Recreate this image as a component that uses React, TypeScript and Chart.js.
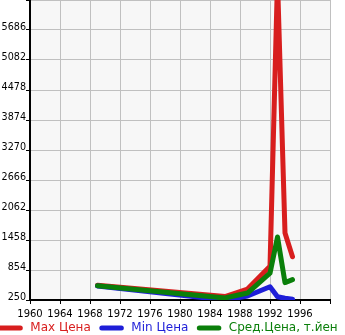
import React, { useEffect, useRef } from "react";
import { Chart, registerables } from "chart.js";

Chart.register(...registerables);

const years = [1969, 1986, 1989, 1992, 1993, 1994, 1995];
const maxPrice = [545, 320, 470, 930, 6700, 1600, 1120];
const minPrice = [530, 250, 330, 518, 316, 285, 264];
const avgPrice = [538, 290, 390, 790, 1518, 600, 660];

const seriesLabels = ["Max Цена", "Min Цена", "Сред.Цена, т.йен"];
const seriesColors = ["#d81e1e", "#1e1ed8", "#0a7f0a"];

const yMin = 250;
const yMax = 6290;
const yStep = 604;
const xMin = 1960;
const xMax = 2000;
const xStep = 4;

const FONT = '"DejaVu Sans", sans-serif';

const bgPlugin = {
  id: "plotBg",
  beforeDraw(chart: any) {
    const { ctx, chartArea } = chart;
    ctx.save();
    ctx.fillStyle = "#f7f7f7";
    ctx.fillRect(chartArea.left, chartArea.top, chartArea.right - chartArea.left, chartArea.bottom - chartArea.top);
    ctx.restore();
  },
};

const legendPlugin = {
  id: "bottomLegend",
  afterDraw(chart: any) {
    const { ctx } = chart;
    ctx.save();
    ctx.font = "12px " + FONT;
    ctx.textBaseline = "middle";
    ctx.textAlign = "left";
    const y = 328;
    let x = -1.7;
    seriesLabels.forEach((label, i) => {
      ctx.strokeStyle = seriesColors[i];
      ctx.lineWidth = 5;
      ctx.lineCap = "round";
      ctx.beginPath();
      ctx.moveTo(x + 2.5, y);
      ctx.lineTo(x + 22, y);
      ctx.stroke();
      ctx.fillStyle = seriesColors[i];
      ctx.fillText(label, x + 32, y);
      const w = ctx.measureText(label).width;
      x = x + 32 + w + 8.5;
    });
    ctx.restore();
  },
};

function toPoints(vals: number[]) {
  return vals.map((v, i) => ({ x: years[i], y: v }));
}

export default function App() {
  const ref = useRef<HTMLCanvasElement | null>(null);
  useEffect(() => {
    document.body.style.margin = "0";
    const canvas = ref.current!;
    const series = [maxPrice, minPrice, avgPrice];
    const orders = [2, 1, 0];
    const chart = new Chart(canvas, {
      type: "line",
      data: {
        datasets: series.map((vals, i) => ({
          label: seriesLabels[i],
          data: toPoints(vals),
          borderColor: seriesColors[i],
          backgroundColor: seriesColors[i],
          borderWidth: 5,
          pointRadius: 0,
          borderCapStyle: "round",
          borderJoinStyle: "round",
          tension: 0,
          fill: false,
          order: orders[i],
        })),
      },
      options: {
        responsive: false,
        animation: false,
        devicePixelRatio: 1,
        layout: { padding: { left: 0, right: 15, top: 0, bottom: 0 } },
        plugins: { legend: { display: false }, tooltip: { enabled: false } },
        scales: {
          x: {
            type: "linear",
            min: xMin,
            max: xMax,
            ticks: {
              stepSize: xStep,
              autoSkip: false,
              maxRotation: 0,
              padding: 4,
              color: "#000",
              font: { family: FONT, size: 10 },
              callback: (v: any) => (v === xMax ? "" : String(v)),
            },
            grid: { color: "#c0c0c0", lineWidth: 1, tickLength: 4, tickColor: "#000" },
            border: { color: "#000", width: 2 },
            afterFit: (axis: any) => {
              axis.height = 35;
              axis.paddingLeft = 0;
              axis.paddingRight = 0;
            },
          },
          y: {
            type: "linear",
            min: yMin,
            max: yMax,
            ticks: {
              stepSize: yStep,
              autoSkip: false,
              padding: 0,
              labelOffset: -3,
              color: "#000",
              font: { family: FONT, size: 9.6 },
              callback: (v: any) => (v === yMax ? "" : String(v)),
            },
            grid: { color: "#c0c0c0", lineWidth: 1, tickLength: 4, tickColor: "#000" },
            border: { color: "#000", width: 2 },
            afterFit: (axis: any) => {
              axis.width = 30;
              axis.paddingTop = 0;
              axis.paddingBottom = 0;
            },
          },
        },
      },
      plugins: [bgPlugin, legendPlugin],
    } as any);
    return () => chart.destroy();
  }, []);
  return (
    <div style={{ width: 345, height: 335 }}>
      <canvas ref={ref} width={345} height={335} style={{ display: "block" }} />
    </div>
  );
}
